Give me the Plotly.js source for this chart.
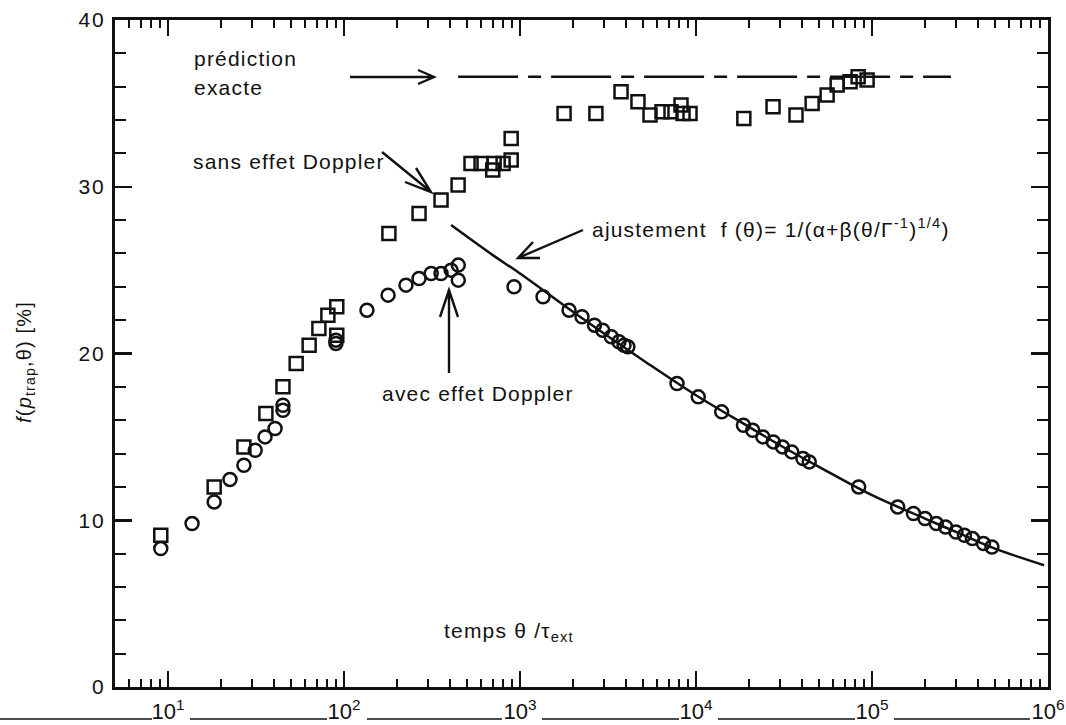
<!DOCTYPE html>
<html>
<head>
<meta charset="utf-8">
<script src="https://cdn.plot.ly/plotly-3.0.1.min.js"></script>
<style>
html,body{margin:0;padding:0;background:#fff;}
#chart{width:1066px;height:725px;}
text.annotation-text{letter-spacing:1.2px;}
g.ytick text{letter-spacing:2px;}
</style>
</head>
<body>
<div id="chart"></div>
<script>
// ---- data ----
const sansDopplerTheta = [9.1, 18.3, 27, 36, 45, 53.5, 63.4, 72, 81, 91, 91, 180, 267, 356, 445, 527, 601, 713, 700, 802, 891, 891, 1780, 2700, 3750, 4680, 5480, 6410, 7210, 8220, 8440, 9250, 18700, 27400, 37000, 45700, 55600, 63400, 75100, 83400, 93800];
const sansDopplerF = [9.1, 12.0, 14.4, 16.4, 18.0, 19.4, 20.5, 21.5, 22.3, 22.8, 21.1, 27.2, 28.4, 29.2, 30.1, 31.4, 31.4, 31.4, 31.0, 31.4, 31.6, 32.9, 34.4, 34.4, 35.7, 35.1, 34.3, 34.5, 34.5, 34.9, 34.4, 34.4, 34.1, 34.8, 34.3, 35.0, 35.5, 36.1, 36.3, 36.6, 36.4];

const avecDopplerTheta = [9.1, 13.7, 18.3, 22.5, 27, 31.3, 35.6, 40.6, 45, 45, 90, 90, 135, 178, 225, 267, 313, 356, 406, 446, 446, 925, 1352, 1900, 2250, 2650, 2950, 3300, 3650, 3900, 4100, 7800, 10300, 14000, 18600, 21000, 24000, 27500, 31000, 35000, 40500, 44000, 84000, 140000, 172000, 200000, 232000, 262000, 300000, 335000, 372000, 430000, 480000];
const avecDopplerF = [8.3, 9.8, 11.1, 12.45, 13.3, 14.2, 15.0, 15.5, 16.6, 16.9, 20.8, 20.6, 22.6, 23.5, 24.1, 24.5, 24.8, 24.8, 25.0, 25.3, 24.4, 24.0, 23.4, 22.6, 22.2, 21.7, 21.4, 21.0, 20.7, 20.5, 20.4, 18.2, 17.4, 16.5, 15.7, 15.4, 15.0, 14.7, 14.4, 14.1, 13.7, 13.5, 12.0, 10.8, 10.4, 10.1, 9.8, 9.6, 9.3, 9.1, 8.9, 8.6, 8.4];

const fitTheta = [406, 700, 1000, 2000, 3000, 5000, 10000, 20000, 30000, 50000, 100000, 200000, 300000, 500000, 950000];
const fitF = [27.7, 25.9, 24.8, 22.5, 21.2, 19.6, 17.5, 15.6, 14.5, 13.2, 11.5, 10.1, 9.3, 8.3, 7.3];

const exactTheta = [445, 281000];
const exactF = [36.6, 36.6];

const xTickVals = [10, 100, 1000, 10000, 100000, 1000000];
const xTickText = ['10<sup>1</sup>', '10<sup>2</sup>', '10<sup>3</sup>', '10<sup>4</sup>', '10<sup>5</sup>', '10<sup>6</sup>'];
const yTickVals = [0, 10, 20, 30, 40];

// ---- presentation ----
const INK = '#111';
const FONT = 'Liberation Sans, Arial, Helvetica, sans-serif';
const L = 115, R = 1048, T = 20, B = 687;
const PX = x => (x - L) / (R - L);
const PY = y => (B - y) / (B - T);

const xMinor = [];
for (let e = 0; e < 6; e++) for (let m = 2; m <= 9; m++) { const v = m * Math.pow(10, e); if (v > 5 && v < 1e6) xMinor.push(v); }

const traces = [
  {x: exactTheta, y: exactF, mode: 'lines', line: {color: INK, width: 2.5, dash: '60px,10px,13px,10px'}},
  {x: fitTheta, y: fitF, mode: 'lines', line: {color: INK, width: 2.5, shape: 'spline'}},
  {x: sansDopplerTheta, y: sansDopplerF, mode: 'markers', marker: {symbol: 'square-open', size: 13, color: INK, line: {width: 2.5, color: INK}}},
  {x: avecDopplerTheta, y: avecDopplerF, mode: 'markers', marker: {symbol: 'circle-open', size: 13, color: INK, line: {width: 2.5, color: INK}}}
];

function path(pts) { return pts.map((p, i) => (i ? 'L' : 'M') + PX(p[0]).toFixed(5) + ',' + PY(p[1]).toFixed(5)).join(' '); }
function arrow(tail, head, w1, w2) {
  return {type: 'path', xref: 'paper', yref: 'paper', line: {color: INK, width: 2.4},
    path: path([tail, head]) + ' ' + path([w1, head, w2])};
}
const shapes = [
  arrow([350, 77], [434, 77], [418, 70], [418, 84]),
  arrow([382, 152], [431, 192], [405, 182], [416, 168]),
  arrow([583, 230], [518, 258], [540, 258], [533, 242]),
  arrow([449, 373], [449, 290], [440, 317], [458, 317])
];
// baseline artefact under the x tick labels
const segs = [[0, 152], [190, 327], [367, 502], [542, 679], [718, 855], [894, 1030]];
segs.forEach(s => shapes.push({type: 'line', xref: 'paper', yref: 'paper', x0: PX(s[0]), x1: PX(s[1]), y0: PY(719), y1: PY(719), line: {color: INK, width: 1.5}}));

function txt(text, x, y, size, anchor) {
  return {text: text, xref: 'paper', yref: 'paper', x: PX(x), y: PY(y), xanchor: anchor || 'left', yanchor: 'middle', showarrow: false, font: {family: FONT, size: size || 21, color: INK}};
}
const annotations = [
  txt('prédiction', 192, 58, 21),
  txt('exacte', 192, 87, 21),
  txt('sans effet Doppler', 191, 161, 21),
  txt('ajustement&#160; f (θ)= 1/(α+β(θ/Γ<sup>-1</sup>)<sup>1/4</sup>)', 590, 228, 21),
  txt('avec effet Doppler', 380, 393, 21),
  txt('temps θ /τ<sub>ext</sub>', 442, 632, 21),
  Object.assign(txt('<i>f</i>(<i>p</i><sub>trap</sub>,θ) [%]', 25, 362, 20, 'center'), {textangle: -90})
];

const layout = {
  width: 1066, height: 725,
  margin: {l: L, r: 1066 - R, t: T, b: 725 - B, pad: 0},
  paper_bgcolor: '#fff', plot_bgcolor: '#fff',
  showlegend: false,
  font: {family: FONT, color: INK},
  xaxis: {
    type: 'log', range: [Math.log10(5), 6], tickmode: 'array', tickvals: xTickVals, ticktext: xTickText,
    ticks: 'inside', ticklen: 16, tickwidth: 2.5, tickcolor: INK,
    showline: true, linewidth: 3, linecolor: INK, mirror: 'ticks',
    showgrid: false, zeroline: false, tickfont: {family: FONT, size: 22, color: INK}, ticklabelstandoff: 3,
    minor: {tickmode: 'array', tickvals: xMinor, ticks: 'inside', ticklen: 8, tickwidth: 2, tickcolor: INK, showgrid: false}
  },
  yaxis: {
    range: [0, 40], tickmode: 'array', tickvals: yTickVals,
    ticks: 'inside', ticklen: 17, tickwidth: 2.5, tickcolor: INK,
    showline: true, linewidth: 3, linecolor: INK, mirror: 'ticks',
    showgrid: false, zeroline: false, tickfont: {family: FONT, size: 21, color: INK}, ticklabelstandoff: 2,
    minor: {dtick: 2, ticks: 'inside', ticklen: 11, tickwidth: 2, tickcolor: INK, showgrid: false}
  },
  shapes: shapes,
  annotations: annotations
};

Plotly.newPlot('chart', traces, layout, {staticPlot: true, displayModeBar: false});
</script>
</body>
</html>
